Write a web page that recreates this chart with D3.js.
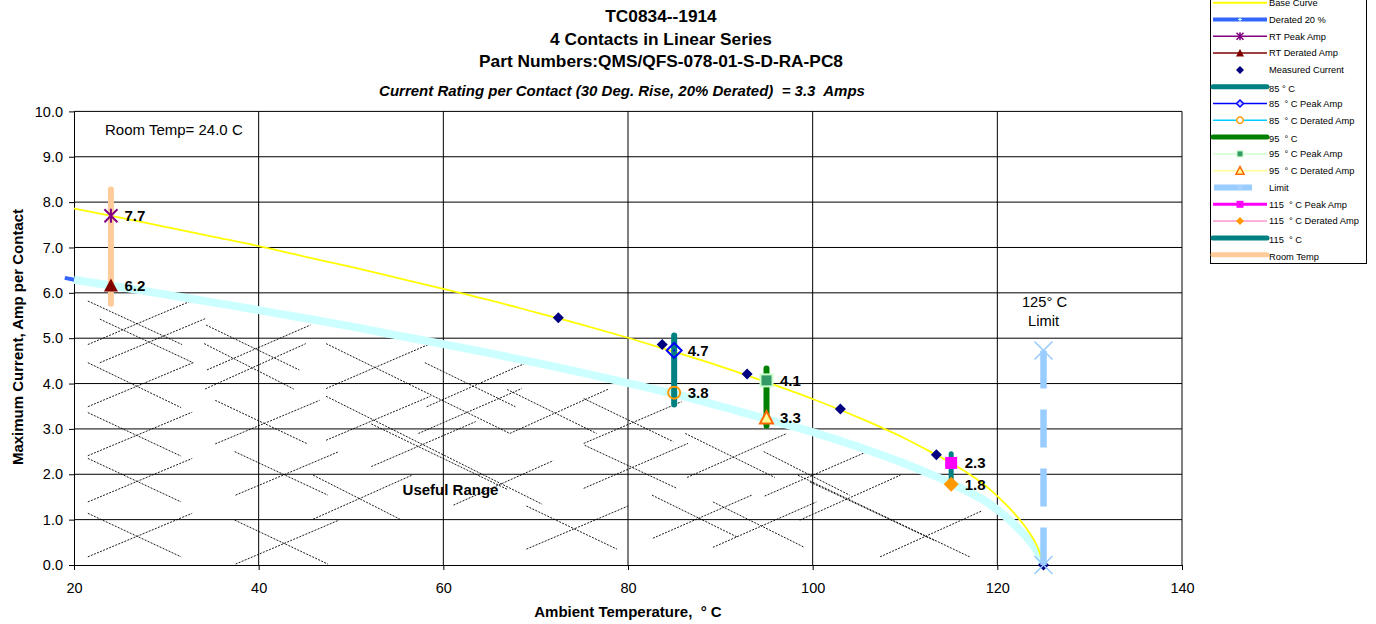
<!DOCTYPE html>
<html><head><meta charset="utf-8">
<script src="https://cdn.jsdelivr.net/npm/d3@7"></script>
<style>
body{margin:0;background:#fff;}
svg{display:block;font-family:"Liberation Sans",Arial,sans-serif;}
text{white-space:pre;}
</style></head><body>
<svg id="chart" width="1376" height="624"></svg>
<script>
// ---------- data ----------
const titleLines = ["TC0834--1914", "4 Contacts in Linear Series", "Part Numbers:QMS/QFS-078-01-S-D-RA-PC8"];
const subtitle = "Current Rating per Contact (30 Deg. Rise, 20% Derated)  = 3.3  Amps";
const xTicks = [20, 40, 60, 80, 100, 120, 140];
const yTicks = [0, 1, 2, 3, 4, 5, 6, 7, 8, 9, 10];

const baseTemp = [20, 25, 30, 35, 40, 45, 50, 55, 60, 65, 70, 75, 80, 85, 90, 95, 100, 105, 110, 113, 115, 117, 119, 120, 121, 122, 123, 124, 124.5, 125];
const baseAmp  = [7.86, 7.66, 7.45, 7.24, 7.03, 6.80, 6.57, 6.33, 6.09, 5.84, 5.57, 5.30, 5.01, 4.70, 4.38, 4.03, 3.66, 3.25, 2.79, 2.47, 2.25, 2.00, 1.70, 1.52, 1.32, 1.10, 0.85, 0.54, 0.32, 0];

const deratedTemp = [19, 20, 25, 30, 35, 40, 45, 50, 55, 60, 65, 70, 75, 80, 85, 90, 95, 100, 105, 110, 113, 115, 117, 119, 120, 121, 122, 123, 124, 124.5, 125];
const deratedAmp  = [6.33, 6.29, 6.13, 5.96, 5.79, 5.62, 5.44, 5.26, 5.06, 4.87, 4.67, 4.46, 4.24, 4.01, 3.77, 3.50, 3.22, 2.93, 2.60, 2.23, 1.98, 1.80, 1.60, 1.37, 1.22, 1.05, 0.86, 0.65, 0.40, 0.23, 0];

const measuredTemp = [72.45, 83.7, 92.9, 103.0, 113.4, 125];
const measuredAmp  = [5.45, 4.86, 4.21, 3.44, 2.43, 0];

const pointTemps   = [24, 85, 95, 115];
const peakAmps     = [7.7, 4.73, 4.07, 2.25];
const peakLabels   = ["7.7", "4.7", "4.1", "2.3"];
const deratedPts   = [6.16, 3.80, 3.25, 1.78];
const deratedLbls  = ["6.2", "3.8", "3.3", "1.8"];
const barLow       = [5.76, 3.54, 3.07, 1.80];
const barHigh      = [8.28, 5.06, 4.33, 2.45];

const limitTemp = 125;
const limitAmps = [4.73, 0];

// hatch segments of the "Useful Range" area: [temp1, amp1, temp2, amp2]
const hatchSegments = [
  [21.5,5.82,31.7,4.86],[21.5,4.86,32.9,5.84],[22.8,5.42,32.9,4.46],[22.8,4.46,34.2,5.43],
  [34.3,5.29,44.4,4.30],[34.4,4.30,45.6,5.29],[34.1,4.88,43.8,3.88],[34.2,3.88,45.1,4.88],
  [21.5,4.46,31.6,3.47],[21.5,3.49,32.9,4.46],[21.5,3.36,31.6,2.40],[21.5,2.41,32.8,3.37],
  [21.5,2.35,31.6,1.39],[21.5,1.39,32.8,2.35],[21.5,1.14,31.6,0.18],[21.5,0.18,32.8,1.14],
  [35.3,3.63,45.3,2.67],[35.3,2.67,46.6,3.63],[37.4,2.50,47.5,1.54],[37.5,1.54,48.7,2.50],
  [37.4,0.99,47.5,0.02],[37.5,0.02,48.7,0.99],[47.3,4.88,67.2,2.90],[47.3,3.89,58.6,4.88],
  [47.3,3.72,70.7,1.34],[52.2,3.11,66.9,1.67],[47.3,2.75,58.6,3.72],[45.9,1.98,55.3,1.01],
  [45.9,1.01,56.6,1.98],[52.2,2.17,63.5,3.16],[58.0,4.46,67.8,3.49],[58.2,3.49,69.0,4.46],
  [57.3,2.90,68.5,3.89],[66.9,3.87,76.6,2.90],[67.2,2.90,77.9,3.88],[61.1,1.32,71.9,2.30],
  [69.0,1.30,78.8,0.35],[69.0,0.35,80.0,1.30],[75.2,3.67,84.9,2.72],[75.2,2.68,85.8,3.60],
  [75.2,1.69,86.5,2.68],[75.3,2.64,85.3,1.69],[86.2,2.90,95.9,1.93],[86.4,1.93,97.2,2.90],
  [82.6,1.54,91.9,0.61],[82.7,0.59,93.4,1.54],[89.2,1.39,99.0,0.40],[89.2,0.39,100.4,1.39],
  [94.7,2.50,104.0,1.54],[94.8,1.52,105.9,2.50],[98.4,1.98,117.0,0.18],[99.7,1.83,113.3,0.53],
  [98.6,0.99,109.5,1.98],[107.3,0.18,118.3,1.19]
];

const legendNames = ["Base Curve", "Derated 20 %", "RT Peak Amp", "RT Derated Amp", "Measured Current",
  "85 ° C", "85  ° C Peak Amp", "85  ° C Derated Amp", "95  ° C", "95  ° C Peak Amp", "95  ° C Derated Amp",
  "Limit", "115  ° C Peak Amp", "115  ° C Derated Amp", "115  ° C", "Room Temp"];

// ---------- drawing ----------
const svg = d3.select("#chart");
const x = d3.scaleLinear().domain([20, 140]).range([74, 1182]);
const y = d3.scaleLinear().domain([0, 10]).range([565, 111.4]);

// titles
svg.append("g").selectAll("text").data(titleLines).join("text")
  .attr("x", 661).attr("y", (d, i) => [16, 38.5, 61][i]).attr("dy", "0.36em")
  .attr("text-anchor", "middle").attr("font-size", 17.3).attr("font-weight", "bold").text(d => d);
svg.append("text").attr("x", 622).attr("y", 91).attr("dy", "0.36em").attr("text-anchor", "middle")
  .attr("font-size", 15).attr("font-weight", "bold").attr("font-style", "italic").text(subtitle);

// grid
const grid = svg.append("g");
grid.selectAll(".h").data(yTicks.filter(v => v > 0)).join("line")
  .attr("x1", x(20)).attr("x2", x(140)).attr("y1", d => y(d)).attr("y2", d => y(d))
  .attr("stroke", "#000").attr("stroke-width", 1);
grid.selectAll(".v").data(xTicks.filter(v => v > 20)).join("line")
  .attr("x1", d => x(d)).attr("x2", d => x(d)).attr("y1", y(10)).attr("y2", y(0))
  .attr("stroke", "#000").attr("stroke-width", 1);

// axes
const yAxis = svg.append("g").attr("transform", `translate(${x(20)},0)`)
  .call(d3.axisLeft(y).tickValues(yTicks).tickFormat(d3.format(".1f")).tickSize(5).tickSizeOuter(0).tickPadding(6));
const xAxis = svg.append("g").attr("transform", `translate(0,${y(0)})`)
  .call(d3.axisBottom(x).tickValues(xTicks).tickFormat(d3.format("d")).tickSize(5).tickSizeOuter(0).tickPadding(12.5));
[yAxis, xAxis].forEach(a => {
  a.selectAll("text").attr("font-size", 14.5).attr("font-family", "Liberation Sans, Arial, sans-serif").attr("fill", "#000");
  a.selectAll("line,path").attr("stroke", "#000");
});

// axis titles
svg.append("text").attr("transform", "translate(18,337) rotate(-90)").attr("dy", "0.36em")
  .attr("text-anchor", "middle").attr("font-size", 15).attr("font-weight", "bold")
  .text("Maximum Current, Amp per Contact");
svg.append("text").attr("x", 628).attr("y", 612).attr("dy", "0.36em").attr("text-anchor", "middle")
  .attr("font-size", 15).attr("font-weight", "bold").text("Ambient Temperature,  ° C");

// hatching
svg.append("g").selectAll("line").data(hatchSegments).join("line")
  .attr("x1", d => x(d[0])).attr("y1", d => y(d[1])).attr("x2", d => x(d[2])).attr("y2", d => y(d[3]))
  .attr("stroke", "#000").attr("stroke-width", 0.9).attr("stroke-dasharray", "2,1.3");

// curves
const line = d3.line().x(d => x(d[0])).y(d => y(d[1])).curve(d3.curveMonotoneX);
const derated = deratedTemp.map((t, i) => [t, deratedAmp[i]]);
svg.append("path").attr("d", line(derated)).attr("fill", "none").attr("stroke", "#3366ff").attr("stroke-width", 4);
svg.append("path").attr("d", line(derated.slice(1))).attr("fill", "none").attr("stroke", "#ccffff").attr("stroke-width", 8);
svg.append("path").attr("d", line(baseTemp.map((t, i) => [t, baseAmp[i]]))).attr("fill", "none")
  .attr("stroke", "#ffff00").attr("stroke-width", 1.8);

// vertical bars
const barColors = ["#ffcc99", "#008080", "#008000", "#008080"];
svg.append("g").selectAll("line").data(pointTemps).join("line")
  .attr("x1", d => x(d)).attr("x2", d => x(d)).attr("y1", (d, i) => y(barLow[i])).attr("y2", (d, i) => y(barHigh[i]))
  .attr("stroke", (d, i) => barColors[i]).attr("stroke-width", (d, i) => i === 3 ? 5 : 6).attr("stroke-linecap", "round");

// measured current diamonds
const diamond = r => `M0,${-r}L${r},0L0,${r}L${-r},0Z`;
svg.append("g").selectAll("path").data(measuredTemp).join("path")
  .attr("transform", (d, i) => `translate(${x(d)},${y(measuredAmp[i])})`)
  .attr("d", diamond(5.5)).attr("fill", "#000080");

// limit
svg.append("line").attr("x1", x(limitTemp)).attr("x2", x(limitTemp)).attr("y1", y(limitAmps[0])).attr("y2", y(limitAmps[1]))
  .attr("stroke", "#99ccff").attr("stroke-width", 6.5).attr("stroke-dasharray", "38,21");
svg.append("g").selectAll("path").data(limitAmps).join("path")
  .attr("transform", d => `translate(${x(limitTemp)},${y(d)})`)
  .attr("d", "M-9,-9L9,9M-9,9L9,-9").attr("stroke", "#99ccff").attr("stroke-width", 1.6).attr("fill", "none");
svg.append("text").attr("x", x(limitTemp) + 1).attr("y", 302).attr("dy", "0.36em").attr("text-anchor", "middle")
  .attr("font-size", 14.7).text("125° C");
svg.append("text").attr("x", x(limitTemp)).attr("y", 321).attr("dy", "0.36em").attr("text-anchor", "middle")
  .attr("font-size", 14.7).text("Limit");

// peak markers
const gm = svg.append("g");
const px = i => x(pointTemps[i]);
// RT peak asterisk
gm.append("path").attr("transform", `translate(${px(0)},${y(peakAmps[0])})`)
  .attr("d", "M-6.5,-6.5L6.5,6.5M-6.5,6.5L6.5,-6.5M0,-7L0,7").attr("stroke", "#800080").attr("stroke-width", 2).attr("fill", "none");
// RT derated triangle
gm.append("path").attr("transform", `translate(${px(0)},${y(deratedPts[0])})`)
  .attr("d", "M0,-7L7,6L-7,6Z").attr("fill", "#800000");
// 85 peak hollow diamond
gm.append("path").attr("transform", `translate(${px(1)},${y(peakAmps[1])})`)
  .attr("d", diamond(7.5)).attr("fill", "none").attr("stroke", "#0000ff").attr("stroke-width", 2);
gm.append("rect").attr("x", px(1) - 1).attr("y", y(peakAmps[1]) - 1).attr("width", 2).attr("height", 2).attr("fill", "#0000ff");
// 85 derated hollow circle
gm.append("circle").attr("cx", px(1)).attr("cy", y(deratedPts[1])).attr("r", 6)
  .attr("fill", "none").attr("stroke", "#ff9900").attr("stroke-width", 2);
// 95 peak square
gm.append("rect").attr("x", px(2) - 6).attr("y", y(peakAmps[2]) - 6).attr("width", 12).attr("height", 12)
  .attr("fill", "#339966").attr("stroke", "#ccffcc").attr("stroke-width", 2);
// 95 derated triangle
gm.append("path").attr("transform", `translate(${px(2)},${y(deratedPts[2])})`)
  .attr("d", "M0,-6.5L6.5,6L-6.5,6Z").attr("fill", "#ffff99").attr("stroke", "#ff6600").attr("stroke-width", 2);
// 115 peak square
gm.append("rect").attr("x", px(3) - 6).attr("y", y(peakAmps[3]) - 6).attr("width", 12).attr("height", 12).attr("fill", "#ff00ff");
// 115 derated diamond
gm.append("path").attr("transform", `translate(${px(3)},${y(deratedPts[3])})`)
  .attr("d", diamond(7.5)).attr("fill", "#ff9900");

// value labels
const lbl = svg.append("g").attr("font-size", 15).attr("font-weight", "bold");
lbl.selectAll(".p").data(pointTemps).join("text").attr("x", d => x(d) + 13.5).attr("y", (d, i) => y(peakAmps[i]))
  .attr("dy", "0.36em").text((d, i) => peakLabels[i]);
lbl.selectAll(".d").data(pointTemps).join("text").attr("class", "d").attr("x", d => x(d) + 13.5).attr("y", (d, i) => y(deratedPts[i]))
  .attr("dy", "0.36em").text((d, i) => deratedLbls[i]);

// notes
svg.append("text").attr("x", 105).attr("y", 129.5).attr("dy", "0.36em").attr("font-size", 15).text("Room Temp= 24.0 C");
svg.append("text").attr("x", 450.5).attr("y", 490).attr("dy", "0.36em").attr("text-anchor", "middle")
  .attr("font-size", 15).attr("font-weight", "bold").text("Useful Range");

// legend
const lg = svg.append("g");
lg.append("rect").attr("x", 1210.5).attr("y", -10).attr("width", 156).attr("height", 273.5)
  .attr("fill", "#fff").attr("stroke", "#000").attr("stroke-width", 1);
const ly = i => 2.7 + i * 16.8;
const L0 = 1213, L1 = 1267, LM = 1240;
const seg = (i, color, w, cap, x1, x2) => lg.append("line").attr("x1", x1 || L0).attr("x2", x2 || L1)
  .attr("y1", ly(i)).attr("y2", ly(i)).attr("stroke", color).attr("stroke-width", w).attr("stroke-linecap", cap || "butt");
const at = i => `translate(${LM},${ly(i)})`;
seg(0, "#ffff00", 2);
seg(1, "#3366ff", 4);
lg.append("path").attr("transform", at(1)).attr("d", "M-2,0L2,0M0,-2L0,2").attr("stroke", "#ccffff").attr("stroke-width", 1.2);
seg(2, "#800080", 1.5);
lg.append("path").attr("transform", at(2)).attr("d", "M-3.5,-3.5L3.5,3.5M-3.5,3.5L3.5,-3.5M0,-4L0,4").attr("stroke", "#800080").attr("stroke-width", 1.5);
seg(3, "#800000", 1.5);
lg.append("path").attr("transform", at(3)).attr("d", "M0,-4L4,3.5L-4,3.5Z").attr("fill", "#800000");
lg.append("path").attr("transform", at(4)).attr("d", diamond(4)).attr("fill", "#000080");
seg(5, "#008080", 5, "round");
seg(6, "#0000ff", 1.5);
lg.append("path").attr("transform", at(6)).attr("d", diamond(3.5)).attr("fill", "#ccccff").attr("stroke", "#0000ff").attr("stroke-width", 1.5);
seg(7, "#00ccff", 1.5);
lg.append("circle").attr("transform", at(7)).attr("r", 3.2).attr("fill", "#fff").attr("stroke", "#ff9900").attr("stroke-width", 1.5);
seg(8, "#008000", 5, "round");
seg(9, "#ccffcc", 1.5);
lg.append("rect").attr("transform", at(9)).attr("x", -3).attr("y", -3).attr("width", 6).attr("height", 6).attr("fill", "#339966").attr("stroke", "#ccffcc");
seg(10, "#ffff99", 1.5);
lg.append("path").attr("transform", at(10)).attr("d", "M0,-4L4,3.5L-4,3.5Z").attr("fill", "#ffff99").attr("stroke", "#ff6600").attr("stroke-width", 1.5);
seg(11, "#99ccff", 6, "butt", 1214, 1252);
lg.append("path").attr("transform", at(11)).attr("d", "M-3,-3L3,3M-3,3L3,-3").attr("stroke", "#bbddff").attr("stroke-width", 1);
seg(12, "#ff00ff", 3);
lg.append("rect").attr("transform", at(12)).attr("x", -3.5).attr("y", -3.5).attr("width", 7).attr("height", 7).attr("fill", "#ff00ff");
seg(13, "#ff99cc", 1.5);
lg.append("path").attr("transform", at(13)).attr("d", diamond(4)).attr("fill", "#ff9900");
seg(14, "#008080", 5, "round");
seg(15, "#ffcc99", 5, "round");
lg.selectAll("text").data(legendNames).join("text").attr("x", 1269).attr("y", (d, i) => ly(i) + ([5, 8, 14, 15].includes(i) ? 1.5 : 0))
  .attr("dy", "0.36em").attr("font-size", 9.3).text(d => d);
</script>
</body></html>
